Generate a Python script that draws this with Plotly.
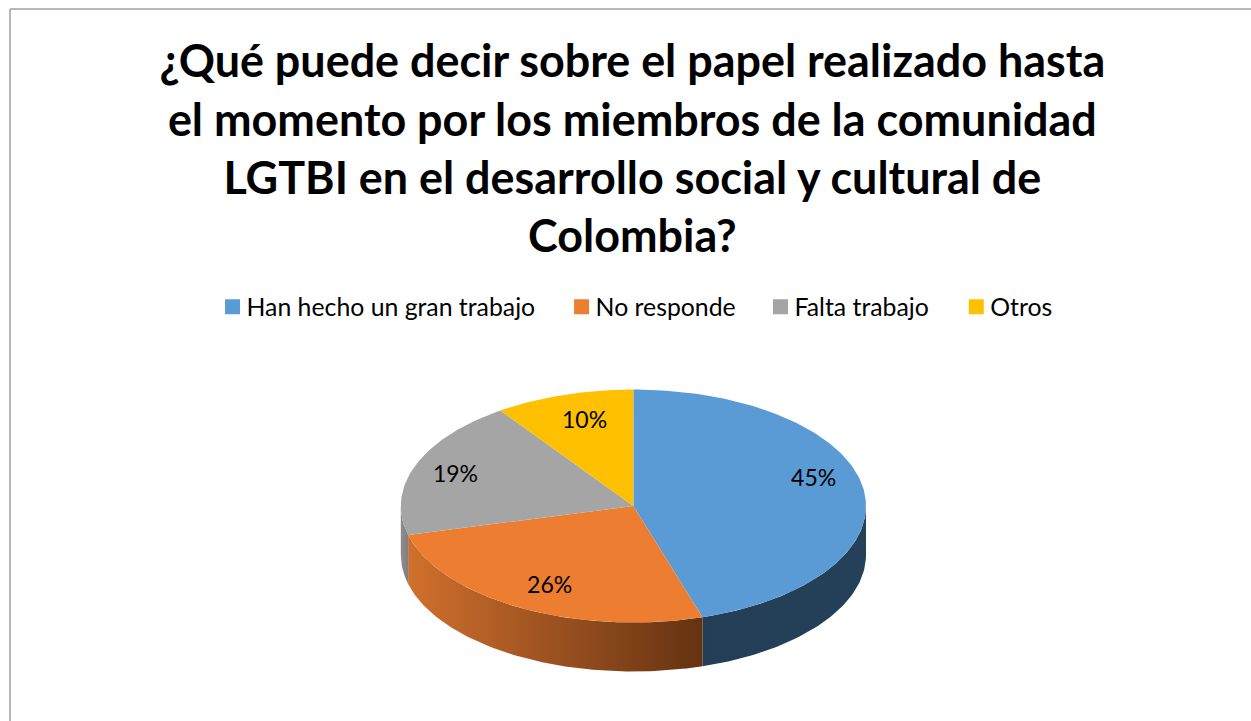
import math
import plotly.graph_objects as go

# ---- data ----
categories = ["Han hecho un gran trabajo", "No responde", "Falta trabajo", "Otros"]
values = [45.2, 25.8, 19.3, 9.7]
title_lines = [
    "¿Qué puede decir sobre el papel realizado hasta",
    "el momento por los miembros de la comunidad",
    "LGTBI en el desarrollo social y cultural de",
    "Colombia?",
]

# ---- styles ----
top_colors = ["#5B9BD5", "#ED7D31", "#A5A5A5", "#FFC000"]
side_scales = [
    [[0, "#233E56"], [1, "#254059"]],
    [[0, "#D0702D"], [1, "#653212"]],
    [[0, "#8E8E8E"], [1, "#7E7E7E"]],
    [[0, "#997300"], [1, "#997300"]],
]
W, H = 1251, 721
CX, CY, RX, RY = 633.4, 506.0, 232.6, 116.5   # pie centre and radii, px
DEPTH = 49 / RY                               # wall height, in radius units
label_place = [(0.775, 0.222), (-0.36, -0.697), (-0.765, 0.253), (-0.21, 0.723)]  # unit-disc positions
legend_x = [0.1755, 0.4545, 0.6135, 0.77]     # paper x of each legend entry

STEP = 1.0


def arc(a, b):
    n = max(2, int(abs(b - a) / STEP) + 1)
    ang = [a + (b - a) * i / (n - 1) for i in range(n)]
    return [math.sin(math.radians(t)) for t in ang], [math.cos(math.radians(t)) for t in ang]


fig = go.Figure()
total = sum(values)
start = 0.0
spans = []
for v in values:
    end = start + 360.0 * v / total
    spans.append((start, end))
    start = end

# walls first
for (a, b), scale, name in zip(spans, side_scales, categories):
    lo, hi = max(a, 90.0), min(b, 270.0)
    if lo >= hi:
        continue
    xs, ys = arc(lo, hi)
    px = xs + xs[::-1] + [xs[0]]
    py = ys + [y - DEPTH for y in ys[::-1]] + [ys[0]]
    fig.add_trace(go.Scatter(
        x=px, y=py, mode="lines", line=dict(width=0), fill="toself",
        fillgradient=dict(type="horizontal", colorscale=scale, start=min(xs), stop=max(xs)),
        hoverinfo="skip", showlegend=False,
    ))

# top faces
for (a, b), col, name, v in zip(spans, top_colors, categories, values):
    xs, ys = arc(a, b)
    fig.add_trace(go.Scatter(
        x=[0] + xs + [0], y=[0] + ys + [0], mode="lines", line=dict(width=0, color=col),
        fill="toself", fillcolor=col, name=name, hoverinfo="text", text=f"{name}: {round(v)}%",
        showlegend=False,
    ))

# legend entries, one native legend per category
legends = {}
for i, (name, col) in enumerate(zip(categories, top_colors)):
    key = "legend" if i == 0 else f"legend{i + 1}"
    fig.add_trace(go.Scatter(
        x=[None], y=[None], mode="markers", name=name, legend=key, showlegend=True,
        marker=dict(symbol="square", size=15, color=col),
    ))
    legends[key] = dict(
        orientation="h", x=legend_x[i], xanchor="left", y=0.574, yanchor="middle",
        font=dict(family="Lato", size=24.8, color="#000000"), itemwidth=30,
        indentation=-7, bgcolor="rgba(0,0,0,0)",
    )

# data labels
fig.add_trace(go.Scatter(
    x=[p[0] for p in label_place], y=[p[1] for p in label_place],
    mode="text", text=[f"{round(v)}%" for v in values],
    textfont=dict(family="Lato", size=23, color="#000000"),
    hoverinfo="skip", showlegend=False,
))

fig.update_layout(
    width=W, height=H, margin=dict(l=0, r=0, t=0, b=0),
    paper_bgcolor="white", plot_bgcolor="white",
    title=dict(
        text="<br>".join(title_lines), x=0.5055, xanchor="center", y=0.893, yanchor="top",
        font=dict(family="Lato", size=44.9, color="#000000", weight="bold"),
    ),
    xaxis=dict(range=[-CX / RX, (W - CX) / RX], visible=False, fixedrange=True),
    yaxis=dict(range=[-(H - CY) / RY, CY / RY], visible=False, fixedrange=True),
    shapes=[
        dict(type="line", xref="paper", yref="paper", x0=10 / W, x1=10 / W, y0=0, y1=1 - 9 / H,
             line=dict(color="#A0A0A0", width=1.5)),
        dict(type="line", xref="paper", yref="paper", x0=10 / W, x1=1, y0=1 - 9 / H, y1=1 - 9 / H,
             line=dict(color="#A0A0A0", width=1.5)),
    ],
    **legends,
)

fig.write_html(
    "out.html",
    config={"displayModeBar": False},
    post_script=(
        "document.body.style.margin='0';document.documentElement.style.overflow='hidden';"
        "var s=document.createElement('style');"
        "s.textContent='.legendtext,.legend2text,.legend3text,.legend4text{transform:translateX(-6px);}';"
        "document.head.appendChild(s);"
    ),
)
